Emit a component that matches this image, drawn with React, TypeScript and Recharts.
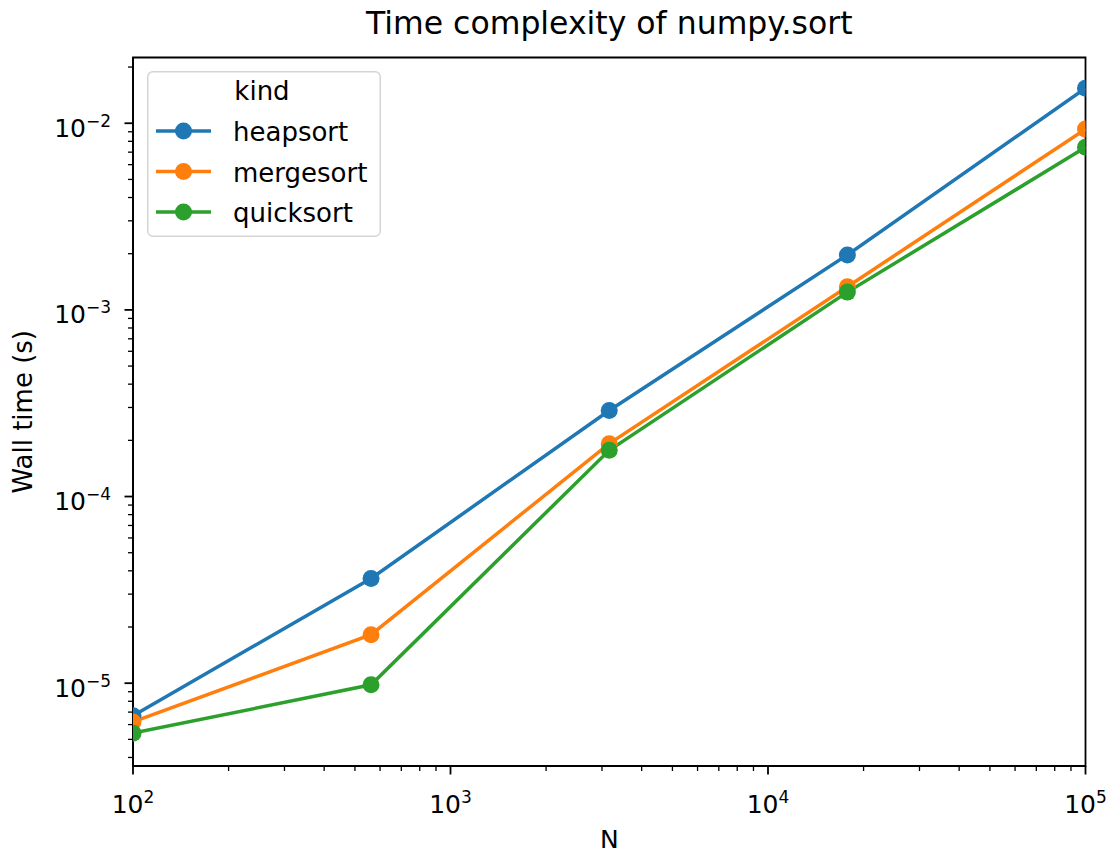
import { Label, Legend, Line, LineChart, ReferenceArea, XAxis, YAxis } from "recharts";

// N = logspace(2, 5, 5)
const nValues = [100, 562, 3162, 17783, 100000];
const heapsortTimes = [6.7e-6, 3.64e-5, 2.89e-4, 1.97e-3, 1.54e-2];
const mergesortTimes = [6.2e-6, 1.82e-5, 1.92e-4, 1.33e-3, 9.3e-3];
const quicksortTimes = [5.4e-6, 9.8e-6, 1.77e-4, 1.245e-3, 7.43e-3];

const seriesNames = ["heapsort", "mergesort", "quicksort"];
const seriesColors = ["#1f77b4", "#ff7f0e", "#2ca02c"];

const xDomain = [100, 100000];
const yDomain = [3.6e-6, 0.0225];

const xDecades = [100, 1000, 10000];
const yDecades = [1e-6, 1e-5, 1e-4, 1e-3, 1e-2];
const multipliers = [1, 2, 3, 4, 5, 6, 7, 8, 9];

const xTicks = [...xDecades.flatMap((d) => multipliers.map((m) => d * m)), 100000];
const yTicks = yDecades
  .flatMap((d) => multipliers.map((m) => d * m))
  .filter((v) => v >= yDomain[0] && v <= yDomain[1]);

const data = nValues.map((n, i) => ({
  n,
  heapsort: heapsortTimes[i],
  mergesort: mergesortTimes[i],
  quicksort: quicksortTimes[i],
}));

const FONT = "DejaVu Sans, sans-serif";

function tickInfo(v: number) {
  const e = Math.round(Math.log10(v));
  const major = Math.abs(Math.log10(v) - e) < 1e-6;
  return { major, exp: String(e).replace("-", "\u2212") };
}

function renderXTick(props: any) {
  const { x, y, payload } = props;
  const { major, exp } = tickInfo(payload.value);
  return (
    <g key={`xt-${payload.value}`}>
      <line x1={x} x2={x} y1={y} y2={y + (major ? 8.5 : 5)} stroke="#000" strokeWidth={major ? 1.8 : 1.3} />
      {major && (
        <text x={x} y={y + 47} textAnchor="middle" fontSize={25} fill="#000" fontFamily={FONT}>
          <tspan>10</tspan>
          <tspan dy={-10} fontSize={17}>{exp}</tspan>
        </text>
      )}
    </g>
  );
}

function renderYTick(props: any) {
  const { x, y, payload } = props;
  const { major, exp } = tickInfo(payload.value);
  return (
    <g key={`yt-${payload.value}`}>
      <line x1={x - (major ? 8.5 : 5)} x2={x} y1={y} y2={y} stroke="#000" strokeWidth={major ? 1.8 : 1.3} />
      {major && (
        <text x={x - 22} y={y + 13.4} textAnchor="end" fontSize={25} fill="#000" fontFamily={FONT}>
          <tspan>10</tspan>
          <tspan dy={-10} fontSize={17}>{exp}</tspan>
        </text>
      )}
    </g>
  );
}

function renderYLabel(props: any) {
  const vb = props.viewBox || { y: 57.5, height: 708.5 };
  const cy = vb.y + vb.height / 2;
  return (
    <text
      x={23}
      y={cy}
      transform={`rotate(-90 23 ${cy})`}
      textAnchor="middle"
      dominantBaseline="central"
      fontSize={26}
      fill="#000"
      fontFamily={FONT}
    >
      Wall time (s)
    </text>
  );
}

function renderLegend(props: any) {
  const items = props.payload || [];
  return (
    <svg width={234} height={166} style={{ display: "block" }}>
      <rect x={0.75} y={0.75} width={232.5} height={164.5} rx={5} fill="rgba(255,255,255,0.8)" stroke="#d5d5d5" strokeWidth={1.5} />
      <text x={115} y={29} textAnchor="middle" fontSize={26} fill="#000" fontFamily={FONT}>
        kind
      </text>
      {items.map((item: any, i: number) => {
        const cy = 60 + i * 40.5;
        return (
          <g key={item.value}>
            <line x1={9} x2={64} y1={cy} y2={cy} stroke={item.color} strokeWidth={3.5} />
            <circle cx={36.5} cy={cy} r={8.5} fill={item.color} />
            <text x={86} y={cy + 10} fontSize={26} fill="#000" fontFamily={FONT}>
              {item.value}
            </text>
          </g>
        );
      })}
    </svg>
  );
}

export default function App() {
  const seriesKeys = ["heapsort", "mergesort", "quicksort"];
  return (
    <div
      style={{
        position: "absolute",
        left: 0,
        top: 0,
        width: 1109,
        height: 854,
        background: "#fff",
        fontFamily: FONT,
      }}
    >
      <div
        style={{
          position: "absolute",
          left: 133,
          width: 952.5,
          top: 8,
          textAlign: "center",
          fontSize: 31.5,
          lineHeight: "31px",
          color: "#000",
        }}
      >
        Time complexity of numpy.sort
      </div>
      <LineChart width={1109} height={854} data={data} margin={{ top: 57.5, right: 23.5, bottom: 0, left: 0 }}>
        <XAxis
          dataKey="n"
          type="number"
          scale="log"
          domain={xDomain}
          allowDataOverflow
          ticks={xTicks}
          interval={0}
          tick={renderXTick}
          tickLine={false}
          tickSize={0}
          tickMargin={0}
          height={88}
          axisLine={{ stroke: "#000", strokeWidth: 1.8 }}
        >
          <Label value="N" position="insideBottom" offset={6} fontSize={25} fill="#000" fontFamily={FONT} />
        </XAxis>
        <YAxis
          type="number"
          scale="log"
          domain={yDomain}
          allowDataOverflow
          ticks={yTicks}
          interval={0}
          tick={renderYTick}
          tickLine={false}
          tickSize={0}
          tickMargin={0}
          width={133}
          axisLine={{ stroke: "#000", strokeWidth: 1.8 }}
        >
          <Label content={renderYLabel} />
        </YAxis>
        <ReferenceArea
          x1={xDomain[0]}
          x2={xDomain[1]}
          y1={yDomain[0]}
          y2={yDomain[1]}
          ifOverflow="visible"
          fill="none"
          stroke="#000"
          strokeWidth={1.8}
        />
        {seriesKeys.map((key, i) => (
          <Line
            key={key}
            dataKey={key}
            name={seriesNames[i]}
            type="linear"
            stroke={seriesColors[i]}
            strokeWidth={3.5}
            dot={{ r: 8.5, fill: seriesColors[i], stroke: "none" }}
            activeDot={false}
            isAnimationActive={false}
          />
        ))}
        <Legend
          layout="horizontal"
          verticalAlign="middle"
          align="center"
          content={renderLegend}
          wrapperStyle={{ left: 147, top: 71, width: 234, height: 166 }}
        />
      </LineChart>
    </div>
  );
}
